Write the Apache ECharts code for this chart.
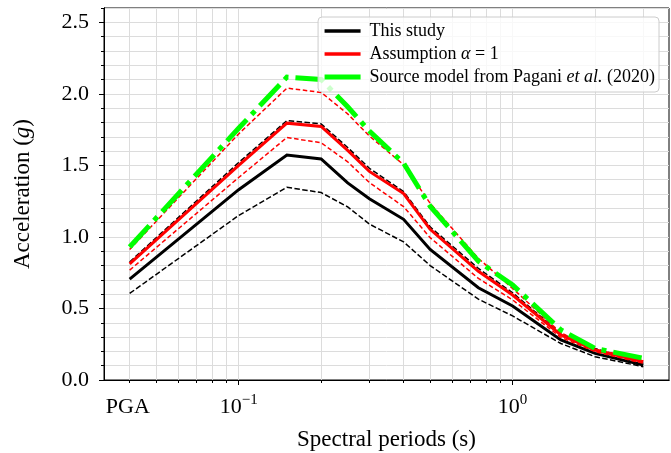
<!DOCTYPE html>
<html><head><meta charset="utf-8">
<script src="https://cdn.jsdelivr.net/npm/echarts@6/dist/echarts.min.js"></script>
<style>html,body{margin:0;padding:0;background:#fff}#c{width:671px;height:453px}</style>
</head><body><div id="c"></div>
<script>
// Spectral periods (s); PGA is plotted at 0.04 s
const periods = [0.04, 0.1, 0.15, 0.2, 0.25, 0.3, 0.4, 0.5, 0.75, 1.0, 1.5, 2.0, 3.0];
const thisStudy      = [0.705, 1.33, 1.573, 1.545, 1.378, 1.267, 1.123, 0.912, 0.645, 0.517, 0.280, 0.186, 0.105];
const thisStudyLow   = [0.605, 1.15, 1.347, 1.310, 1.210, 1.090, 0.965, 0.800, 0.565, 0.448, 0.255, 0.163, 0.093];
const thisStudyHigh  = [0.825, 1.52, 1.813, 1.790, 1.625, 1.480, 1.317, 1.070, 0.780, 0.610, 0.325, 0.220, 0.120];
const alphaOne       = [0.812, 1.50, 1.795, 1.772, 1.605, 1.458, 1.303, 1.053, 0.760, 0.594, 0.315, 0.210, 0.128];
const alphaOneLow    = [0.768, 1.415, 1.695, 1.658, 1.525, 1.380, 1.212, 0.995, 0.710, 0.560, 0.298, 0.198, 0.117];
const alphaOneHigh   = [0.912, 1.72, 2.040, 2.010, 1.860, 1.705, 1.505, 1.235, 0.850, 0.640, 0.330, 0.215, 0.140];
const pagani         = [0.930, 1.76, 2.117, 2.100, 1.910, 1.740, 1.515, 1.215, 0.830, 0.664, 0.350, 0.221, 0.152];

const seriesNames = ['This study', 'Assumption α = 1', 'Source model from Pagani et al. (2020)'];
const xLabelValues = [0.04, 0.1, 1];
const xLabelTexts = ['{b|PGA}{h| }', '{b|10}{s|−1}', '{b|10}{s|0}'];
const xMajorTicks = [0.1, 1];
const xMinorTicks = [0.04, 0.05, 0.06, 0.07, 0.08, 0.09, 0.2, 0.3, 0.4, 0.5, 0.6, 0.7, 0.8, 0.9, 2, 3];
const yLabelValues = [0, 0.5, 1.0, 1.5, 2.0, 2.5];
const xRange = [0.03224, 3.7236];
const yRange = [0, 2.6];

const FONT = 'Liberation Serif';
const GRID = '#dcdcdc';
const lg = Math.log10;
const pts = arr => periods.map((p, i) => [lg(p), arr[i]]);

const xBase = {
  type: 'value', min: lg(xRange[0]), max: lg(xRange[1]), position: 'bottom', offset: 0,
  axisLine: { show: true, onZero: false, lineStyle: { color: '#000', width: 1 } },
};
const yBase = {
  type: 'value', min: yRange[0], max: yRange[1], position: 'left', offset: 0,
  axisLine: { show: true, onZero: false, lineStyle: { color: '#000', width: 1 } },
};

function line(name, data, color, width, type, z) {
  return { name, type: 'line', data: pts(data), symbol: 'none', z,
    lineStyle: { color, width, type, cap: 'butt', join: 'miter' }, itemStyle: { color } };
}

const chart = echarts.init(document.getElementById('c'));
chart.setOption({
  animation: false,
  grid: { left: 104, top: 8, right: 2, bottom: 73, containLabel: false, outerBoundsMode: 'none',
    show: true, borderColor: '#000', borderWidth: 1, backgroundColor: 'transparent' },
  xAxis: [
    Object.assign({}, xBase, {
      axisTick: { show: true, length: 5, inside: false, customValues: xMajorTicks.map(lg), lineStyle: { color: '#000', width: 1 } },
      axisLabel: { show: true, margin: 13, customValues: xLabelValues.map(lg),
        formatter: v => { const i = xLabelValues.findIndex(t => Math.abs(lg(t) - v) < 1e-6); return i >= 0 ? xLabelTexts[i] : ''; },
        rich: {
          b: { fontFamily: FONT, fontSize: 22, color: '#000' },
          s: { fontFamily: FONT, fontSize: 15, color: '#000', padding: [0, 0, 14, 0] },
          h: { fontFamily: FONT, fontSize: 15, color: '#000', padding: [0, 0, 14, 0] }
        } },
      splitLine: { show: true, lineStyle: { color: GRID, width: 1 } },
      name: 'Spectral periods (s)', nameLocation: 'middle', nameGap: 48,
      nameTextStyle: { fontFamily: FONT, fontSize: 23, color: '#000' }
    }),
    Object.assign({}, xBase, {
      axisTick: { show: true, length: 3, customValues: xMinorTicks.map(lg), lineStyle: { color: '#000', width: 1 } },
      axisLabel: { show: false },
      splitLine: { show: true, lineStyle: { color: GRID, width: 1 } }
    })
  ],
  yAxis: [
    Object.assign({}, yBase, {
      interval: 0.5,
      axisTick: { show: true, length: 5, customValues: yLabelValues, lineStyle: { color: '#000', width: 1 } },
      axisLabel: { show: true, margin: 15, customValues: yLabelValues, formatter: v => v.toFixed(1),
        fontFamily: FONT, fontSize: 22, color: '#000' },
      splitLine: { show: false },
      name: 'Acceleration ({i|g})', nameLocation: 'middle', nameRotate: 90, nameGap: 70,
      nameTextStyle: { fontFamily: FONT, fontSize: 23, color: '#000',
        rich: { i: { fontFamily: FONT, fontSize: 23, fontStyle: 'italic', color: '#000' } } }
    }),
    Object.assign({}, yBase, {
      interval: 0.1,
      axisTick: { show: true, length: 3, lineStyle: { color: '#000', width: 1 } },
      axisLabel: { show: false },
      splitLine: { show: true, lineStyle: { color: GRID, width: 1 } }
    })
  ],
  legend: {
    data: [
      { name: seriesNames[0], lineStyle: { width: 3.5, type: 'solid', color: '#000' } },
      { name: seriesNames[1], lineStyle: { width: 3.5, type: 'solid', color: '#ff0000' } },
      { name: seriesNames[2], lineStyle: { width: 5, type: 'solid', color: '#00ff00' } }
    ],
    orient: 'vertical', right: 12, top: 17, z: 20,
    padding: [5, 4, 6, 4], itemGap: 5, itemWidth: 36, itemHeight: 14,
    itemStyle: { opacity: 0 },
    backgroundColor: 'rgba(255,255,255,0.8)', borderColor: '#cccccc', borderWidth: 1, borderRadius: 4,
    formatter: name => {
      if (name === seriesNames[1]) return '{n|Assumption }{i|α}{n| = 1}';
      if (name === seriesNames[2]) return '{n|Source model from Pagani }{i|et al.}{n| (2020)}';
      return '{n|' + name + '}';
    },
    textStyle: { fontFamily: FONT, fontSize: 18, color: '#000', padding: [0, 0, 0, 4],
      rich: { n: { fontFamily: FONT, fontSize: 18, lineHeight: 20, color: '#000' },
              i: { fontFamily: FONT, fontSize: 18, lineHeight: 20, fontStyle: 'italic', color: '#000' } } }
  },
  series: [
    line('thisStudyLow', thisStudyLow, '#000', 1.5, [5.5, 2.4], 2),
    line('thisStudyHigh', thisStudyHigh, '#000', 1.5, [5.5, 2.4], 2),
    line(seriesNames[0], thisStudy, '#000', 3, 'solid', 3),
    line(seriesNames[1], alphaOne, '#ff0000', 3, 'solid', 4),
    line('alphaOneLow', alphaOneLow, '#ff0000', 1.5, [4.5, 2.6], 5),
    line('alphaOneHigh', alphaOneHigh, '#ff0000', 1.5, [4.5, 2.6], 5),
    line(seriesNames[2], pagani, '#00ff00', 5, [29, 7, 5, 7], 6)
  ]
});
</script></body></html>
